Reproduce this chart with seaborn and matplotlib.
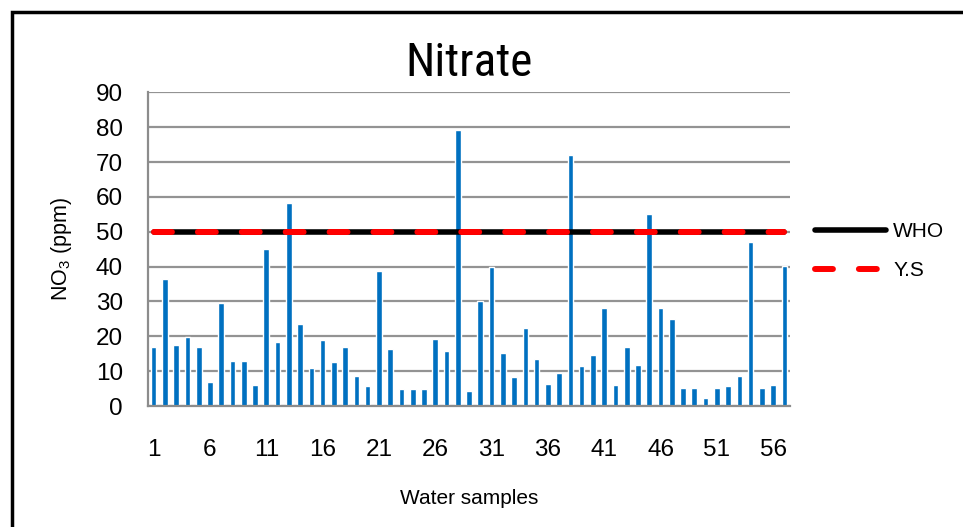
import matplotlib
matplotlib.use("Agg")
import matplotlib.pyplot as plt
from matplotlib import font_manager
from matplotlib.lines import Line2D
from matplotlib.patches import Rectangle
import seaborn as sns
import pandas as pd

# Nitrate concentration (ppm) for each water sample
samples = list(range(1, 58))
nitrate = [17.0, 36.6, 17.4, 19.8, 16.8, 7.0, 29.6, 13.0, 13.0, 6.0,
           45.0, 18.3, 58.2, 23.4, 10.8, 19.0, 12.6, 16.8, 8.6, 5.6,
           38.8, 16.3, 4.8, 4.8, 4.8, 19.3, 15.8, 79.3, 4.2, 30.0,
           39.8, 15.2, 8.2, 22.4, 13.6, 6.4, 9.5, 72.1, 11.5, 14.6,
           28.2, 6.0, 16.9, 11.8, 55.2, 28.2, 25.0, 5.2, 5.2, 2.4,
           5.2, 5.6, 8.7, 47.2, 5.2, 6.0, 40.1]
who_limit = 50
ys_limit = 50
x_tick_labels = ["1", "6", "11", "16", "21", "26", "31", "36", "41", "46", "51", "56"]
y_ticks = [0, 10, 20, 30, 40, 50, 60, 70, 80, 90]

sns.set_theme(style="white")

# narrow face for the title when one is installed
names = {f.name for f in font_manager.fontManager.ttflist}
title_family = "Liberation Sans"
for cand in ["Liberation Sans Narrow", "Roboto Condensed", "Open Sans Condensed"]:
    if cand in names:
        title_family = cand
        break
plt.rcParams["font.family"] = ["Liberation Sans", "DejaVu Sans"]
plt.rcParams["mathtext.fontset"] = "custom"
plt.rcParams["mathtext.rm"] = "Liberation Sans"
plt.rcParams["mathtext.it"] = "Liberation Sans"
for key in ["text.color", "axes.labelcolor", "xtick.color", "ytick.color"]:
    plt.rcParams[key] = "black"

df = pd.DataFrame({"sample": samples, "nitrate": nitrate})

fig = plt.figure(figsize=(9.63, 5.27), dpi=100)
ax = fig.add_axes([0.1537, 0.2296, 0.6667, 0.5949])

sns.barplot(data=df, x="sample", y="nitrate", order=samples, color="#0070C0",
            saturation=1, width=0.5, ax=ax)

pos = list(range(len(samples)))
ax.plot(pos, [who_limit] * len(pos), color="black", lw=4.0,
        solid_capstyle="round", label="WHO", zorder=3)
ax.plot(pos, [ys_limit] * len(pos), color="#FF0000", lw=4.3,
        dashes=(3.0, 4.35), dash_capstyle="round", label="Y.S", zorder=4)

ax.set_xlim(-0.5, len(samples) - 0.5)
ax.set_ylim(0, 90)
ax.set_yticks(y_ticks)
ax.set_yticklabels([str(v) for v in y_ticks], fontsize=17.5)
ax.set_xticks(list(range(0, 56, 5)))
ax.set_xticklabels(x_tick_labels, fontsize=17.5)
ax.tick_params(axis="y", length=0, pad=18)
ax.tick_params(axis="x", length=0, pad=24)

ax.yaxis.grid(True, color="#939393", lw=1.6)
ax.set_axisbelow(True)
for s in ["top", "right"]:
    ax.spines[s].set_visible(False)
for s in ["left", "bottom"]:
    ax.spines[s].set_color("#8c8c8c")
    ax.spines[s].set_linewidth(1.6)

ax.set_xlabel("Water samples", fontsize=15, labelpad=20)
ax.set_ylabel(r"NO$_\mathregular{3}$ (ppm)", fontsize=15.5, labelpad=16)
ax.set_title("Nitrate", fontsize=34, pad=12, color="black",
             family=[title_family, "DejaVu Sans"])

handles = [Line2D([], [], color="black", lw=4.0, solid_capstyle="round"),
           Line2D([], [], color="#FF0000", lw=4.3, dashes=(3.0, 4.35),
                  dash_capstyle="round")]
ax.legend(handles, ["WHO", "Y.S"], loc="center left", bbox_to_anchor=(1.039, 0.494),
          frameon=False, fontsize=15, handlelength=3.4, handletextpad=0.35,
          labelspacing=0.95, borderpad=0, borderaxespad=0, labelcolor="black")

fig.patches.append(Rectangle((12 / 963, -0.1), 1.2, (527 - 12) / 527 + 0.1,
                             transform=fig.transFigure, fill=False,
                             edgecolor="black", lw=2.5))

fig.savefig("out.png", dpi=100)
